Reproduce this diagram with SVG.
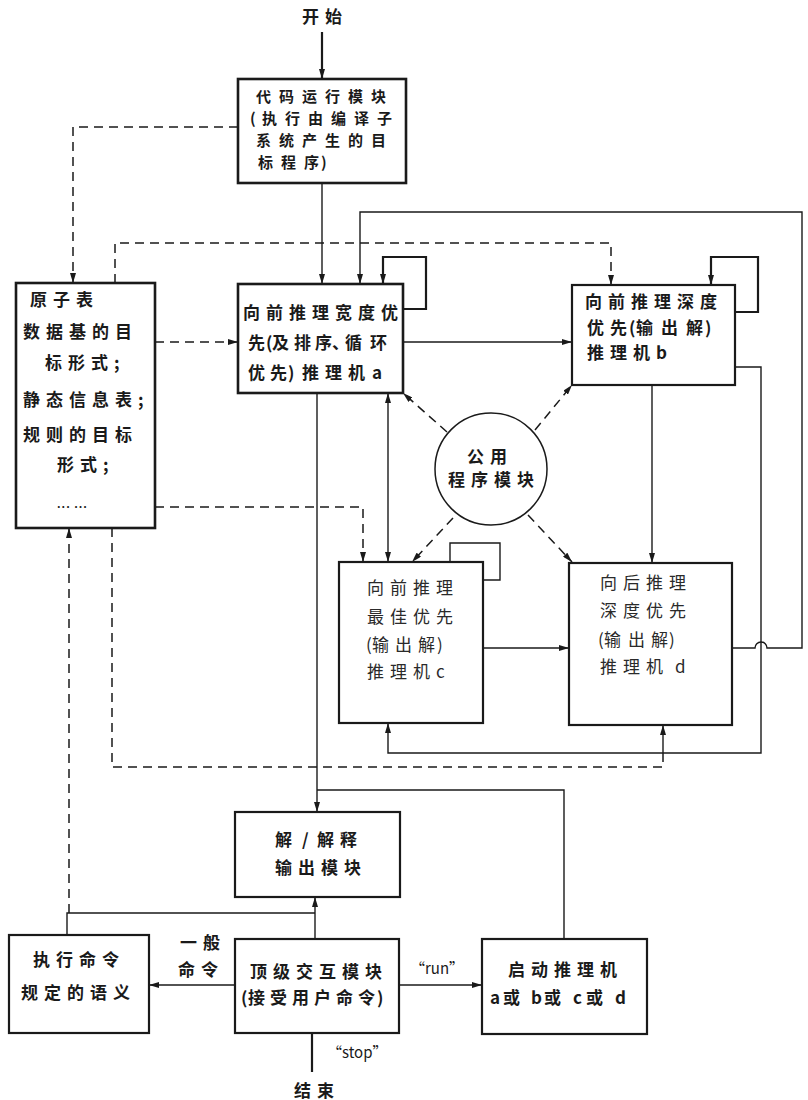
<svg xmlns="http://www.w3.org/2000/svg" width="808" height="1100" viewBox="0 0 808 1100">
<style>
  .box{fill:#fff;stroke:#1a1a1a;stroke-width:2.2}
  .thick{stroke-width:2.6}
  .t{font-family:"Noto Sans CJK SC","Noto Sans",sans-serif;font-size:17px;fill:#1a1a1a;letter-spacing:6px;font-weight:bold}
  .tl{font-weight:normal;fill:#2a2a2a}
  .p{letter-spacing:0}
  .c{font-size:15px;letter-spacing:8px}
  .s{fill:none;stroke:#1a1a1a;stroke-width:1.4}
  .sb{fill:none;stroke:#1a1a1a;stroke-width:2.2}
  .d{fill:none;stroke:#1a1a1a;stroke-width:1.5;stroke-dasharray:9 6}
</style>
<defs>
  <marker id="ar" viewBox="0 0 10 6" refX="10" refY="3" markerWidth="10" markerHeight="6" markerUnits="userSpaceOnUse" orient="auto-start-reverse">
    <path d="M0,0 L10,3 L0,6 z" fill="#1a1a1a"/>
  </marker>
</defs>

<g id="connectors">
  <path class="sb" d="M322,32 V79" marker-end="url(#ar)"/>
  <path class="s" d="M322,183 V284" stroke-width="1.8" marker-end="url(#ar)"/>
  <path class="d" d="M238,127 H73 V283" marker-end="url(#ar)"/>
  <path class="d" d="M115,283 V243 H611 V285" marker-end="url(#ar)"/>
  <path class="d" d="M155,342 H238" marker-end="url(#ar)"/>
  <path class="s" stroke-width="1.8" d="M732,648 H755 A6,6 0 0 1 767,648 H802 V212 H360 V284" marker-end="url(#ar)"/>
  <path class="sb" d="M403,309 H426 V257 H383 V284" marker-end="url(#ar)"/>
  <path class="s" d="M403,342 H572" marker-end="url(#ar)"/>
  <path class="sb" stroke-width="1.8" d="M735,312 H758 V257 H711 V285" marker-end="url(#ar)"/>
  <path class="s" d="M652,385 V563" marker-end="url(#ar)"/>
  <path class="s" d="M735,367 H761 V753 H388 V723" marker-end="url(#ar)"/>
  <path class="s" d="M663,753 V725" marker-end="url(#ar)"/>
  <path class="s" d="M388,393 V562" marker-start="url(#ar)" marker-end="url(#ar)"/>
  <path class="d" d="M155,507 H363 V562" marker-end="url(#ar)"/>
  <path class="d" d="M447,432 L403,393" marker-end="url(#ar)"/>
  <path class="d" d="M535,430 L572,385" marker-end="url(#ar)"/>
  <path class="d" d="M453,518 L412,562" marker-end="url(#ar)"/>
  <path class="d" d="M528,515 L572,562" marker-end="url(#ar)"/>
  <path class="s" d="M483,648 H569" marker-end="url(#ar)"/>
  <path class="s" stroke-width="1.8" d="M483,580 H500 V543 H450 V562"/>
  <path class="d" d="M112,528 V767 H663 V753"/>
  <path class="s" stroke-width="1" d="M317,393 V812" marker-end="url(#ar)"/>
  <path class="s" d="M564,939 V790 H317"/>
  <path class="d" d="M69,913 V528" marker-end="url(#ar)"/>
  <path class="s" d="M67,935 V913 H315"/>
  <path class="s" d="M315,939 V897" marker-end="url(#ar)"/>
  <path class="s" d="M235,985 H149" marker-end="url(#ar)"/>
  <path class="s" d="M399,985 H482" marker-end="url(#ar)"/>
  <path class="sb" d="M312,1033 V1072"/>
</g>

<g id="start"><text class="t" x="302" y="23">开始</text></g>

<g id="code">
  <rect class="box thick" x="238" y="79" width="168" height="104"/>
  <text class="t c" x="256" y="102">代码运行模块</text>
  <text class="t c p" x="250 262 285 308 331 354 377" y="124">(执行由编译子</text>
  <text class="t c" x="256" y="146">系统产生的目</text>
  <text class="t c p" x="258 281 304 321" y="168">标程序)</text>
</g>

<g id="atom">
  <rect class="box thick" x="16" y="283" width="139" height="245"/>
  <text class="t" x="30" y="306">原子表</text>
  <text class="t" x="23" y="338">数据基的目</text>
  <text class="t" x="45" y="369">标形式;</text>
  <text class="t" x="23" y="406">静态信息表;</text>
  <text class="t" x="23" y="441">规则的目标</text>
  <text class="t" x="57" y="471">形式;</text>
  <text class="t" x="57" y="508" style="font-size:11px;letter-spacing:1px">... ...</text>
</g>

<g id="engine-a">
  <rect class="box thick" x="238" y="284" width="165" height="109"/>
  <text class="t" x="243" y="319">向前推理宽度优</text>
  <text class="t p" x="248 266 272 294 315 332 345 370" y="349">先(及排序、循环</text>
  <text class="t p" x="248 270 288 302 325 348 372" y="379">优先)推理机a</text>
</g>

<g id="engine-b">
  <rect class="box" x="572" y="285" width="163" height="100"/>
  <text class="t" x="585" y="308">向前推理深度</text>
  <text class="t p" x="587 610 629 636 661 686 705" y="334">优先(输出解)</text>
  <text class="t p" x="587 610 633 656" y="359">推理机b</text>
</g>

<g id="common">
  <circle cx="491" cy="469" r="56" fill="#fff" stroke="#1a1a1a" stroke-width="1.5"/>
  <text class="t" x="467" y="463">公用</text>
  <text class="t" x="448" y="486">程序模块</text>
</g>

<g id="engine-c">
  <rect class="box" x="339" y="562" width="144" height="161"/>
  <text class="t tl" x="367" y="594">向前推理</text>
  <text class="t tl" x="367" y="623">最佳优先</text>
  <text class="t tl p" x="366 372 395 418 437" y="651">(输出解)</text>
  <text class="t tl" x="367" y="678">推理机c</text>
</g>

<g id="engine-d">
  <rect class="box" x="569" y="563" width="163" height="162"/>
  <text class="t tl" x="600" y="589">向后推理</text>
  <text class="t tl" x="600" y="617">深度优先</text>
  <text class="t tl p" x="598 604 628 651 669" y="646">(输出解)</text>
  <text class="t tl p" x="600 623 646 675" y="673">推理机d</text>
</g>

<g id="output">
  <rect class="box" x="235" y="812" width="165" height="85"/>
  <text class="t p" x="275 302 317 340" y="846">解/解释</text>
  <text class="t" x="275" y="874">输出模块</text>
</g>

<g id="exec">
  <rect class="box" x="9" y="935" width="140" height="98"/>
  <text class="t" x="33" y="966">执行命令</text>
  <text class="t" x="21" y="999">规定的语义</text>
</g>

<g id="top">
  <rect class="box" x="235" y="939" width="164" height="94"/>
  <text class="t" x="250" y="978">顶级交互模块</text>
  <text class="t p" x="241 248 270 292 314 336 358 377" y="1004">(接受用户命令)</text>
</g>

<g id="launch">
  <rect class="box" x="482" y="939" width="165" height="95"/>
  <text class="t" x="508" y="976">启动推理机</text>
  <text class="t p" x="490 503 531 544 573 586 615" y="1004">a或b或c或d</text>
</g>

<g id="labels">
  <text class="t" x="180" y="949">一般</text>
  <text class="t" x="178" y="976">命令</text>
  <text class="t" x="410" y="974" style="letter-spacing:0;font-size:15px;font-weight:normal">“run”</text>
  <text class="t" x="327" y="1058" style="letter-spacing:0;font-size:15px;font-weight:normal">“stop”</text>
  <text class="t" x="294" y="1097">结束</text>
</g>
</svg>
